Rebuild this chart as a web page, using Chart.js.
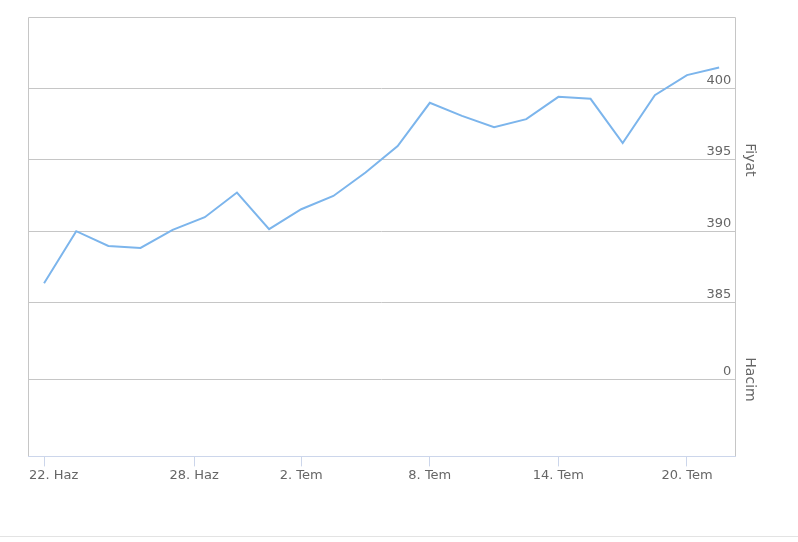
<!DOCTYPE html>
<html>
<head>
<meta charset="utf-8">
<script src="https://cdn.jsdelivr.net/npm/chart.js@4/dist/chart.umd.min.js"></script>
<style>
  html, body { margin: 0; padding: 0; background: #fff; }
  #wrap { position: relative; width: 798px; height: 536px; }
  #line { width: 798px; height: 0; border-top: 1px solid #e3e3e3; }
</style>
</head>
<body>
<div id="wrap"><canvas id="myChart"></canvas></div>
<div id="line"></div>
<script>
// trading days (ordinal x axis)
const dates = [
  '2015-06-22', '2015-06-23', '2015-06-24', '2015-06-25', '2015-06-26',
  '2015-06-29', '2015-06-30', '2015-07-01', '2015-07-02', '2015-07-03',
  '2015-07-06', '2015-07-07', '2015-07-08', '2015-07-09', '2015-07-10',
  '2015-07-13', '2015-07-14', '2015-07-15', '2015-07-16', '2015-07-17',
  '2015-07-20', '2015-07-21'
];
const prices = [
  386.36, 390.0, 388.97, 388.83, 390.09, 390.98, 392.71, 390.14, 391.54, 392.47,
  394.11, 395.96, 398.99, 398.08, 397.29, 397.85, 399.41, 399.27, 396.17, 399.53,
  400.93, 401.47
];
const volumes = [];

const xTickDates = ['2015-06-22', '2015-06-28', '2015-07-02', '2015-07-08', '2015-07-14', '2015-07-20'];
const xTickLabels = ['22. Haz', '28. Haz', '2. Tem', '8. Tem', '14. Tem', '20. Tem'];
const priceTicks = [385, 390, 395, 400];
const volumeTicks = [0];

const gridColor = '#c6c6c6';
const textColor = '#666666';

// place a date on the ordinal (trading day index) axis
const dayTimes = dates.map(d => Date.parse(d));
function ordinalPos(d) {
  const t = Date.parse(d);
  for (let i = 0; i < dayTimes.length - 1; i++) {
    if (t >= dayTimes[i] && t <= dayTimes[i + 1]) {
      return i + (t - dayTimes[i]) / (dayTimes[i + 1] - dayTimes[i]);
    }
  }
  return dayTimes.length - 1;
}
const xTickPos = xTickDates.map(ordinalPos);

// plot border + justify first x label to the plot edge
const plotFrame = {
  id: 'plotFrame',
  beforeDraw(chart) {
    const items = chart.scales.x.getLabelItems();
    if (items.length) {
      items[0].options.textAlign = 'left';
      items[0].options.translation[0] = chart.chartArea.left + 1;
    }
  },
  beforeDatasetsDraw(chart) {
    const { ctx, chartArea: a } = chart;
    ctx.save();
    ctx.strokeStyle = gridColor;
    ctx.lineWidth = 1;
    ctx.beginPath();
    ctx.moveTo(Math.round(a.left) + 0.5, Math.round(a.bottom));
    ctx.lineTo(Math.round(a.left) + 0.5, Math.round(a.top) + 0.5);
    ctx.lineTo(Math.round(a.right) + 0.5, Math.round(a.top) + 0.5);
    ctx.lineTo(Math.round(a.right) + 0.5, Math.round(a.bottom));
    ctx.stroke();
    ctx.restore();
  }
};

Chart.defaults.font.family = "'DejaVu Sans', sans-serif";
Chart.defaults.font.size = 13;
Chart.defaults.color = textColor;

const ctx = document.getElementById('myChart').getContext('2d');
new Chart(ctx, {
  type: 'line',
  data: {
    datasets: [{
      label: 'Fiyat',
      data: prices.map((v, i) => ({ x: i, y: v })),
      borderColor: '#7cb5ec',
      borderWidth: 2,
      pointRadius: 0,
      tension: 0,
      yAxisID: 'price'
    }, {
      label: 'Hacim',
      data: volumes.map((v, i) => ({ x: i, y: v })),
      borderColor: '#434348',
      pointRadius: 0,
      yAxisID: 'volume'
    }]
  },
  plugins: [plotFrame],
  options: {
    responsive: true,
    maintainAspectRatio: false,
    animation: false,
    layout: { padding: { left: 28, top: 17, right: 40, bottom: 52 } },
    plugins: {
      legend: { display: false },
      tooltip: { enabled: false }
    },
    scales: {
      x: {
        type: 'linear',
        offset: false,
        min: -0.5,
        max: dates.length - 0.5,
        afterBuildTicks: (scale) => {
          scale.ticks = xTickPos.map(v => ({ value: v }));
        },
        ticks: {
          autoSkip: false,
          maxRotation: 0,
          padding: 1,
          callback: (value, index) => xTickLabels[index]
        },
        grid: { offset: false, drawOnChartArea: false, drawTicks: true, tickLength: 10, color: '#ccd6eb' },
        border: { color: '#ccd6eb' }
      },
      price: {
        type: 'linear',
        position: 'right',
        stack: 'panes',
        stackWeight: 65,
        min: 385,
        max: 405,
        afterBuildTicks: (scale) => {
          scale.ticks = priceTicks.map(v => ({ value: v }));
        },
        ticks: { mirror: true, padding: -4, labelOffset: -8 },
        grid: { color: gridColor, drawTicks: false },
        border: { display: false },
        title: { display: true, text: 'Fiyat', font: { size: 14 }, padding: { top: 0, bottom: 14 } }
      },
      volume: {
        type: 'linear',
        position: 'right',
        stack: 'panes',
        stackWeight: 35,
        min: -1,
        max: 1,
        afterBuildTicks: (scale) => {
          scale.ticks = volumeTicks.map(v => ({ value: v }));
        },
        ticks: { mirror: true, padding: -4, labelOffset: -8 },
        grid: { color: gridColor, drawTicks: false },
        border: { display: false },
        title: { display: true, text: 'Hacim', font: { size: 14 }, padding: { top: 0, bottom: 14 } }
      }
    }
  }
});
</script>
</body>
</html>
